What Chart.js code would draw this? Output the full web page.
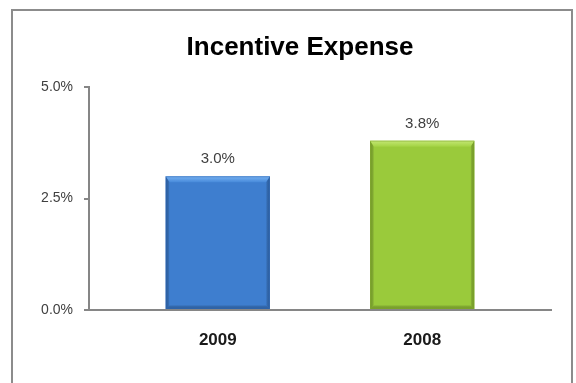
<!DOCTYPE html>
<html lang="en">
<head>
    <meta charset="UTF-8">
    <title>Incentive Expense</title>
    <script src="https://cdn.jsdelivr.net/npm/chart.js@4.4.1/dist/chart.umd.min.js"></script>
    <style>
        html, body { margin: 0; padding: 0; background: #fff; }
        #wrap { position: relative; width: 576px; height: 383px; overflow: hidden; }
        #frame {
            position: absolute; left: 11px; top: 9px; width: 558px; height: 400px;
            border: 2px solid #8c8c8c; pointer-events: none;
        }
        canvas { position: absolute; left: 0; top: 0; }
    </style>
</head>
<body>
    <div id="wrap">
        <canvas id="myChart" width="576" height="383"></canvas>
        <div id="frame"></div>
    </div>

<script type="text/javascript">
    // chart values
    let years = ['2009', '2008'];
    let expensePct = [3.0, 3.8];
    let yTicks = [0, 2.5, 5.0];

    // base / light / dark tones per bar
    let barTones = [
        { top: '#4689da', base: '#3e7ecf', bottom: '#3873c2', light: '#78b3f2', dark: '#2b60a6' },
        { top: '#a3d343', base: '#9aca3b', bottom: '#8fbc33', light: '#c4e774', dark: '#779e27' }
    ];

    let axisGray = '#868686';

    // slight vertical shading of each bar body
    let barFill = function (context) {
        let chart = context.chart;
        let el = context.element;
        let tone = barTones[context.dataIndex];
        if (!el || !isFinite(el.y) || !isFinite(el.base)) return tone.base;
        let g = chart.ctx.createLinearGradient(0, el.y, 0, el.base);
        g.addColorStop(0, tone.top);
        g.addColorStop(0.5, tone.base);
        g.addColorStop(1, tone.bottom);
        return g;
    };

    // bevel: light top band, darker side and bottom bands
    let bevelPlugin = {
        id: 'bevel',
        afterDatasetsDraw(chart) {
            let ctx = chart.ctx;
            chart.getDatasetMeta(0).data.forEach(function (bar, i) {
                let tone = barTones[i];
                let l = bar.x - bar.width / 2, r = bar.x + bar.width / 2;
                let t = bar.y, b = bar.base;
                let d = 6, s = 4;
                ctx.save();
                ctx.globalAlpha = 0.65;

                // sides
                let gl = ctx.createLinearGradient(l, 0, l + s, 0);
                gl.addColorStop(0, tone.dark);
                gl.addColorStop(1, 'rgba(0,0,0,0)');
                ctx.fillStyle = gl;
                ctx.beginPath();
                ctx.moveTo(l, t); ctx.lineTo(l + s, t + d);
                ctx.lineTo(l + s, b - s); ctx.lineTo(l, b);
                ctx.closePath(); ctx.fill();

                let gr = ctx.createLinearGradient(r, 0, r - s, 0);
                gr.addColorStop(0, tone.dark);
                gr.addColorStop(1, 'rgba(0,0,0,0)');
                ctx.fillStyle = gr;
                ctx.beginPath();
                ctx.moveTo(r, t); ctx.lineTo(r - s, t + d);
                ctx.lineTo(r - s, b - s); ctx.lineTo(r, b);
                ctx.closePath(); ctx.fill();

                // bottom
                let gb = ctx.createLinearGradient(0, b, 0, b - s);
                gb.addColorStop(0, tone.dark);
                gb.addColorStop(1, 'rgba(0,0,0,0)');
                ctx.fillStyle = gb;
                ctx.beginPath();
                ctx.moveTo(l, b); ctx.lineTo(r, b);
                ctx.lineTo(r - s, b - s); ctx.lineTo(l + s, b - s);
                ctx.closePath(); ctx.fill();

                // top highlight
                ctx.globalAlpha = 1;
                let gt = ctx.createLinearGradient(0, t, 0, t + d);
                gt.addColorStop(0, tone.light);
                gt.addColorStop(1, tone.top);
                ctx.fillStyle = gt;
                ctx.beginPath();
                ctx.moveTo(l, t); ctx.lineTo(r, t);
                ctx.lineTo(r - s, t + d); ctx.lineTo(l + s, t + d);
                ctx.closePath(); ctx.fill();

                ctx.strokeStyle = tone.dark;
                ctx.globalAlpha = 0.45;
                ctx.lineWidth = 1;
                ctx.strokeRect(l + 0.5, t + 0.5, r - l - 1, b - t - 1);
                ctx.restore();
            });
        }
    };

    // value label above each bar
    let valueLabels = {
        id: 'valueLabels',
        afterDatasetsDraw(chart) {
            let ctx = chart.ctx;
            ctx.save();
            ctx.font = '15px "Liberation Sans", Arial, sans-serif';
            ctx.fillStyle = '#404040';
            ctx.textAlign = 'center';
            ctx.textBaseline = 'alphabetic';
            chart.getDatasetMeta(0).data.forEach(function (bar, i) {
                ctx.fillText(expensePct[i].toFixed(1) + '%', bar.x, bar.y - 13);
            });
            ctx.restore();
        }
    };

    // the left padding only shifts the title; let the y labels use that room
    let widenYLabels = {
        id: 'widenYLabels',
        afterLayout(chart) {
            chart.scales.y.left = 0;
        }
    };

    let ctx = document.getElementById('myChart').getContext('2d');

    window.expenseChart = new Chart(ctx, {
        type: 'bar',
        data: {
            datasets: [{
                data: expensePct.map(function (v, i) { return { x: i, y: v }; }),
                backgroundColor: barFill,
                borderWidth: 0,
                categoryPercentage: 1,
                barPercentage: 0.51
            }]
        },
        options: {
            responsive: false,
            animation: false,
            layout: { padding: { left: 49, right: 25, top: 0, bottom: 0 } },
            plugins: {
                legend: { display: false },
                tooltip: { enabled: false },
                title: {
                    display: true,
                    text: 'Incentive Expense',
                    color: '#000',
                    font: { family: '"Liberation Sans", Arial, sans-serif', size: 26, weight: 'bold', lineHeight: 1.2 },
                    padding: { top: 32, bottom: 24 }
                }
            },
            scales: {
                x: {
                    type: 'linear',
                    offset: false,
                    min: -0.63,
                    max: 1.63,
                    afterBuildTicks: function (scale) {
                        scale.ticks = years.map(function (_, i) { return { value: i }; });
                    },
                    afterFit: function (scale) { scale.height = 73; },
                    grid: { display: true, drawOnChartArea: false, drawTicks: false, offset: false },
                    border: { display: true, color: axisGray, width: 2 },
                    ticks: {
                        padding: 20,
                        color: '#1a1a1a',
                        font: { family: '"Liberation Sans", Arial, sans-serif', size: 17, weight: 'bold' },
                        callback: function (v) { return years[v]; }
                    }
                },
                y: {
                    min: 0,
                    max: 5,
                    afterBuildTicks: function (scale) {
                        scale.ticks = yTicks.map(function (v) { return { value: v }; });
                    },
                    afterFit: function (scale) { scale.width = 40; },
                    grid: {
                        drawOnChartArea: false,
                        drawTicks: true,
                        tickLength: 5,
                        color: axisGray,
                        lineWidth: 2
                    },
                    border: { display: true, color: axisGray, width: 2 },
                    ticks: {
                        padding: 11,
                        color: '#404040',
                        font: { family: '"Liberation Sans", Arial, sans-serif', size: 14 },
                        callback: function (v) { return v.toFixed(1) + '%'; }
                    }
                }
            }
        },
        plugins: [bevelPlugin, valueLabels, widenYLabels]
    });
</script>
</body>
</html>
